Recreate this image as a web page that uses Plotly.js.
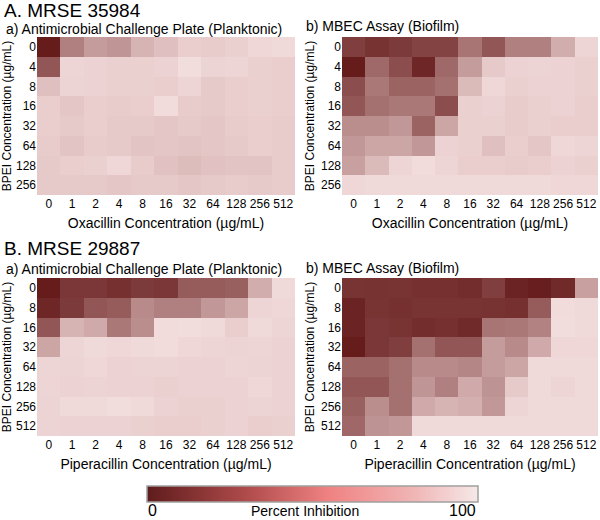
<!DOCTYPE html>
<html>
<head>
<meta charset="utf-8">
<script src="https://cdn.plot.ly/plotly-3.0.1.min.js"></script>
<style>html,body{margin:0;padding:0;background:#fff;}#chart{width:600px;height:520px;}</style>
</head>
<body>
<div id="chart"></div>
<script>
// Categories
const oxaCats = ['0','1','2','4','8','16','32','64','128','256','512'];
const pipCats = ['0','1','2','4','8','16','32','64','128','256','512'];
const bpeiA = ['0','4','8','16','32','64','128','256'];
const bpeiB = ['0','8','16','32','64','128','256','512'];
const scaleRange = [0, 100];
const scaleLabels = ['0', '100'];

// Percent inhibition values (rows = BPEI, cols = antibiotic)
const zAplank = [
  [2, 55, 68, 65, 78, 82, 88, 87, 89, 93, 94],
  [35, 92, 90, 89, 89, 90, 96, 91, 92, 89, 88],
  [82, 91, 90, 89, 89, 88, 92, 86, 88, 89, 88],
  [88, 85, 88, 87, 88, 95, 87, 86, 88, 89, 88],
  [88, 86, 88, 86, 86, 85, 86, 85, 87, 88, 87],
  [87, 84, 87, 86, 84, 85, 84, 85, 86, 88, 87],
  [86, 88, 89, 93, 87, 83, 81, 83, 84, 84, 87],
  [86, 86, 86, 85, 86, 86, 85, 86, 87, 86, 87]
];
const zAbio = [
  [22, 15, 20, 25, 25, 50, 35, 55, 55, 75, 92],
  [2, 45, 30, 8, 45, 68, 86, 90, 91, 90, 89],
  [30, 52, 42, 42, 48, 80, 93, 89, 90, 90, 89],
  [35, 48, 52, 52, 30, 89, 90, 87, 89, 90, 88],
  [62, 62, 66, 42, 72, 89, 89, 87, 89, 88, 88],
  [66, 72, 72, 66, 90, 89, 82, 88, 85, 93, 92],
  [70, 80, 92, 95, 92, 88, 88, 87, 88, 90, 89],
  [93, 94, 94, 94, 94, 94, 94, 94, 94, 93, 93]
];
const zBplank = [
  [2, 18, 18, 14, 20, 18, 38, 38, 40, 75, 94],
  [8, 20, 35, 38, 60, 55, 55, 66, 72, 92, 93],
  [35, 78, 74, 52, 62, 95, 96, 94, 88, 94, 92],
  [72, 92, 94, 93, 94, 95, 93, 92, 91, 92, 90],
  [92, 91, 93, 90, 91, 91, 90, 90, 92, 91, 90],
  [92, 90, 91, 90, 90, 89, 90, 90, 90, 93, 90],
  [91, 94, 94, 96, 94, 90, 89, 89, 90, 91, 90],
  [91, 90, 90, 90, 89, 88, 88, 89, 90, 88, 89]
];
const zBbio = [
  [16, 15, 16, 14, 14, 12, 22, 6, 3, 10, 70],
  [6, 16, 14, 16, 16, 16, 15, 14, 38, 95, 94],
  [6, 18, 16, 12, 14, 10, 50, 52, 56, 96, 94],
  [2, 18, 22, 48, 35, 35, 68, 60, 74, 93, 93],
  [42, 42, 48, 60, 60, 58, 68, 72, 94, 94, 94],
  [35, 35, 48, 65, 55, 74, 64, 86, 94, 92, 94],
  [40, 62, 48, 74, 78, 76, 66, 92, 94, 94, 94],
  [44, 64, 66, 94, 94, 94, 94, 94, 94, 94, 94]
];

const cellScale = [
  [0, 'rgb(100,25,25)'], [0.2, 'rgb(125,58,58)'], [0.45, 'rgb(160,105,105)'],
  [0.7, 'rgb(200,160,160)'], [0.88, 'rgb(234,206,206)'], [1, 'rgb(246,228,228)']
];
const barScale = [
  [0, 'rgb(95,28,28)'], [0.3, 'rgb(175,75,75)'], [0.55, 'rgb(240,130,130)'],
  [0.8, 'rgb(240,180,180)'], [1, 'rgb(246,232,232)']
];

const FONT = '"Liberation Sans", Arial, sans-serif';

function hm(z, x, y, xa, ya) {
  return {type: 'heatmap', z: z, x: x, y: y, xaxis: xa, yaxis: ya,
    colorscale: cellScale, zmin: 0, zmax: 100, showscale: false, hoverongaps: false};
}

const traces = [
  hm(zAplank, oxaCats, bpeiA, 'x', 'y'),
  hm(zAbio, oxaCats, bpeiA, 'x2', 'y2'),
  hm(zBplank, pipCats, bpeiB, 'x3', 'y3'),
  hm(zBbio, pipCats, bpeiB, 'x4', 'y4'),
  // colour-key only (hidden axes, invisible cells)
  {type: 'heatmap', z: [scaleRange], xaxis: 'x5', yaxis: 'y5', opacity: 0,
    colorscale: barScale, zmin: scaleRange[0], zmax: scaleRange[1], showscale: true, hoverinfo: 'skip',
    colorbar: {orientation: 'h', x: 312.5/600, xanchor: 'center', len: 331/600, lenmode: 'fraction',
      y: 1 - 486/520, yanchor: 'top', ypad: 0, xpad: 0, thickness: 16,
      outlinewidth: 1.5, outlinecolor: '#a0a0a0', showticklabels: false, ticks: ''}}
];

function xax(dom, cats, title) {
  return {domain: dom, type: 'category', categoryorder: 'array', categoryarray: cats,
    showgrid: false, zeroline: false, showline: false, ticks: '', tickangle: 0,
    tickfont: {family: FONT, size: 12, color: '#000'}, automargin: false,
    title: {text: title, font: {family: FONT, size: 14, color: '#000'}, standoff: 8}};
}
function yax(dom, cats, anchor) {
  return {domain: dom, type: 'category', categoryorder: 'array', categoryarray: cats,
    autorange: 'reversed', showgrid: false, zeroline: false, showline: false, ticks: '',
    tickfont: {family: FONT, size: 12, color: '#000'}, automargin: false, anchor: anchor,
    title: {text: 'BPEI Concentration (µg/mL)', font: {family: FONT, size: 12, color: '#000'}, standoff: 3}};
}

const xL = [37/600, 295/600], xR = [342/600, 598/600];
const yA = [1 - 195/520, 1 - 37/520], yB = [1 - 436/520, 1 - 278/520];

function ann(text, px, py, size, anchor) {
  return {text: text, xref: 'paper', yref: 'paper', x: px/600, y: 1 - py/520,
    xanchor: anchor || 'left', yanchor: 'middle', showarrow: false,
    font: {family: FONT, size: size, color: '#000'}};
}

const layout = {
  width: 600, height: 520, margin: {l: 0, r: 0, t: 0, b: 0},
  paper_bgcolor: '#fff', plot_bgcolor: 'rgba(0,0,0,0)', showlegend: false,
  xaxis: Object.assign(xax(xL, oxaCats, 'Oxacillin Concentration (µg/mL)'), {anchor: 'y'}),
  yaxis: yax(yA, bpeiA, 'x'),
  xaxis2: Object.assign(xax(xR, oxaCats, 'Oxacillin Concentration (µg/mL)'), {anchor: 'y2'}),
  yaxis2: yax(yA, bpeiA, 'x2'),
  xaxis3: Object.assign(xax(xL, pipCats, 'Piperacillin Concentration (µg/mL)'), {anchor: 'y3'}),
  yaxis3: yax(yB, bpeiB, 'x3'),
  xaxis4: Object.assign(xax(xR, pipCats, 'Piperacillin Concentration (µg/mL)'), {anchor: 'y4'}),
  yaxis4: yax(yB, bpeiB, 'x4'),
  xaxis5: {domain: [0, 0.01], visible: false, anchor: 'y5'},
  yaxis5: {domain: [0, 0.01], visible: false, anchor: 'x5'},
  annotations: [
    ann('A. MRSE 35984', 2, 10, 19),
    ann('a) Antimicrobial Challenge Plate (Planktonic)', 4, 29, 14),
    ann('b) MBEC Assay (Biofilm)', 304, 26, 14),
    ann('B. MRSE 29887', 2, 248, 19),
    ann('a) Antimicrobial Challenge Plate (Planktonic)', 4, 269, 14),
    ann('b) MBEC Assay (Biofilm)', 304, 268, 14),
    ann('Percent Inhibition', 305, 511, 14, 'center'),
    ann(scaleLabels[0], 152, 510, 16, 'center'),
    ann(scaleLabels[1], 463, 510, 16, 'center')
  ]
};

Plotly.newPlot('chart', traces, layout, {displayModeBar: false, staticPlot: true});
</script>
</body>
</html>
